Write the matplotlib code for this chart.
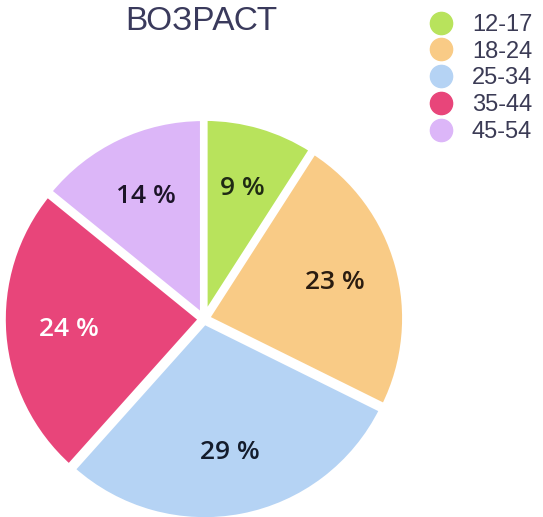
import matplotlib.pyplot as plt
from matplotlib.lines import Line2D

ages = ["12-17", "18-24", "25-34", "35-44", "45-54"]
shares = [9, 23, 29, 24, 14]
colors = ["#b8e35c", "#f9cb86", "#b5d3f4", "#e8457a", "#dcb6f8"]
label_colors = ["#1f2a14", "#2a1c10", "#141c2c", "#ffffff", "#1c1428"]

W, H = 543, 517


def main():
  fig = plt.figure(figsize=(W / 100, H / 100), dpi=100)

  # pie centre and radius in pixels
  cx, cy, r = 204, H - 319, 198
  r_ax = 225
  ax = fig.add_axes([(cx - r_ax) / W, (cy - r_ax) / H, 2 * r_ax / W, 2 * r_ax / H])

  wedges, _, autotexts = ax.pie(
    shares, colors=colors, startangle=90, counterclock=False,
    explode=[0.015] * len(shares), autopct="%d", pctdistance=0.67,
    wedgeprops=dict(edgecolor="white", linewidth=4),
    textprops=dict(fontsize=19, fontweight="semibold",
                   family=["Open Sans", "DejaVu Sans"]),
    radius=1.0, center=(0, 0), frame=False)
  for t, v, c in zip(autotexts, shares, label_colors):
    t.set_text(f"{v} %")
    t.set_color(c)
  for w in wedges:
    w.set_clip_on(False)

  lim = r_ax / r
  ax.set_xlim(-lim, lim)
  ax.set_ylim(-lim, lim)
  ax.set_aspect("equal")
  ax.axis("off")

  fig.text(201 / W, 1 - 21 / H, "ВОЗРАСТ", ha="center", va="center",
           fontsize=24, color="#3a3a5c", family=["Liberation Sans", "DejaVu Sans"])

  handles = [Line2D([], [], linestyle="none", marker="o", markersize=16,
                    markerfacecolor=c, markeredgecolor=c) for c in colors]
  fig.legend(handles, ages, loc="upper left",
             bbox_to_anchor=(427 / W, 1 - 14 / H), frameon=False,
             labelspacing=0.2, handlelength=1.2,
             handletextpad=0.7, borderpad=0, borderaxespad=0,
             labelcolor="#3b3b55",
             prop=dict(family=["Liberation Sans", "DejaVu Sans"], size=17))

  fig.savefig("out.png", dpi=100)


if __name__ == "__main__":
  main()
